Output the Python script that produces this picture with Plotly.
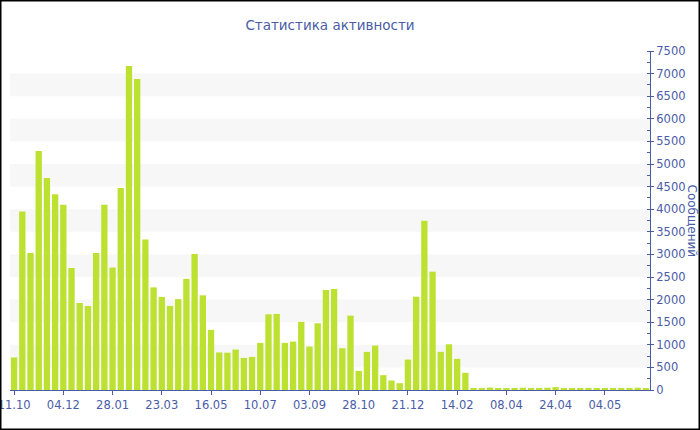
import plotly.graph_objects as go

# ---- data ----
values = [
    720, 3950, 3030, 5290, 4690, 4330, 4100, 2700, 1925, 1860,
    3030, 4100, 2710, 4470, 7170, 6880, 3330, 2270, 2060, 1860,
    2010, 2460, 3010, 2095, 1330, 830, 825, 895,
    711, 733, 1042, 1675, 1683, 1042, 1071, 1506, 961, 1476,
    2213, 2235, 924, 1646, 423, 843, 983, 328, 210, 151,
    674, 2065, 3744, 2618, 845, 1012, 689, 380,
    30, 40, 55, 45, 30, 40, 50, 35, 45, 50,
    65, 40, 35, 40, 40, 35, 25, 30, 30, 35, 50, 40,
]
periods = list(range(len(values)))
tick_positions = [0, 6, 12, 18, 24, 30, 36, 42, 48, 54, 60, 66, 72]
tick_labels = ["11.10", "04.12", "28.01", "23.03", "16.05", "10.07", "03.09",
               "28.10", "21.12", "14.02", "08.04", "24.04", "04.05"]
y_title = "Сообщений"
chart_title = "Статистика активности"

# ---- style ----
W, H = 700, 430
L, R, T, B = 10, 50, 51, 40
PW, PH = W - L - R, H - T - B
blue = "#4a5ca8"
bar_color = "#bde131"
font = "DejaVu Sans"

fig = go.Figure()
fig.add_trace(go.Bar(x=periods, y=values, marker=dict(color=bar_color, line=dict(width=0)),
                     hoverinfo="y"))

shapes = []
for lo in range(500, 7500, 1000):
    shapes.append(dict(type="rect", xref="paper", yref="y", x0=0, x1=1, y0=lo, y1=lo + 500,
                       fillcolor="#f7f7f7", line=dict(width=0), layer="below"))
# outer frame
shapes.append(dict(type="rect", xref="paper", yref="paper",
                   x0=(0.75 - L) / PW, x1=(W - 0.75 - L) / PW,
                   y0=(T + PH - (H - 0.75)) / PH, y1=(T + PH - 0.75) / PH,
                   line=dict(color="black", width=1.5), fillcolor="rgba(0,0,0,0)", layer="above"))

fig.update_layout(
    template="none",
    width=W, height=H,
    margin=dict(l=L, r=R, t=T, b=B, autoexpand=False),
    paper_bgcolor="white", plot_bgcolor="white",
    bargap=0.23,
    showlegend=False,
    font=dict(family=font, color=blue, size=11.5),
    title=dict(text=chart_title, x=0.5, xref="paper", xanchor="center", y=1 - 25 / H, yanchor="middle",
               font=dict(family=font, size=13.5, color=blue)),
    shapes=shapes,
    xaxis=dict(range=[-0.5, len(values) - 0.5], tickmode="array", tickvals=tick_positions,
               ticktext=tick_labels, ticks="outside", ticklen=4, tickcolor=blue,
               ticklabeloverflow="allow", automargin=False,
               showline=True, linecolor=blue, linewidth=1, showgrid=False, zeroline=False,
               tickfont=dict(family=font, size=11.5, color=blue)),
    yaxis=dict(side="right", range=[0, 7500], dtick=500, tick0=0, ticks="outside", ticklen=3,
               tickcolor=blue, showline=True, linecolor=blue, linewidth=1, showgrid=False,
               zeroline=False, tickfont=dict(family=font, size=11.5, color=blue),
               ticklabeloverflow="allow", automargin=False,
               minor=dict(dtick=250, ticks="inside", ticklen=3, tickcolor=blue)),
    annotations=[dict(text=y_title, textangle=90, xref="paper", yref="paper",
                      x=(692 - L) / PW, y=0.5, xanchor="center", yanchor="middle",
                      showarrow=False, font=dict(family=font, size=12, color=blue))],
)

fig.write_html("out.html", config={"displayModeBar": False},
               post_script="document.body.style.margin='0';document.body.style.overflow='hidden';")
